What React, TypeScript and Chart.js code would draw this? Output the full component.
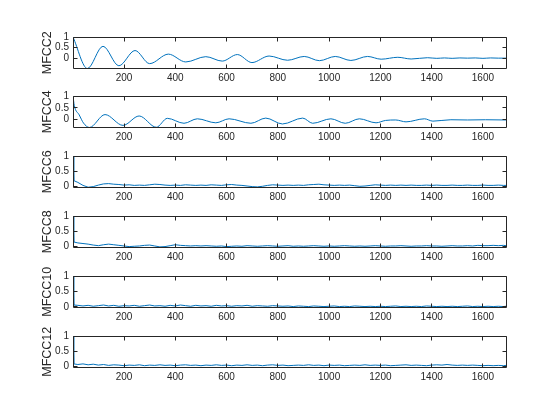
import React, { useEffect, useRef } from "react";
import { Chart, registerables } from "chart.js";
Chart.register(...registerables);

// ---------- data ----------
const X_MIN = 1;
const X_MAX = 1690;
const X_TICKS = [200, 400, 600, 800, 1000, 1200, 1400, 1600];
const Y_TICKS = [0, 0.5, 1];
const LABELS = ["MFCC2", "MFCC4", "MFCC6", "MFCC8", "MFCC10", "MFCC12"];
const Y_MINS = [-0.49, -0.34, -0.05, -0.03, -0.02, -0.05];
const Y_MAX = 1;

const mfcc2Lag = [1, 57, 118, 180, 243, 300, 373, 441, 519, 583, 642, 699, 766, 838, 903, 962, 1024, 1085, 1150, 1203, 1268, 1320, 1384, 1420, 1450, 1480, 1510, 1540, 1570, 1600, 1630, 1660, 1690];
const mfcc2Val = [1, -0.49, 0.56, -0.36, 0.36, -0.26, 0.19, -0.18, 0.07, -0.14, 0.17, -0.21, 0.1, -0.1, 0.08, -0.12, 0.08, -0.11, 0.08, -0.05, 0.04, -0.04, 0.02, -0.01, 0.01, -0.01, 0.01, 0.0, 0.01, -0.01, 0.01, 0.0, 0.0];

const mfcc4Lag = [1, 6, 25, 42, 65, 126, 196, 259, 326, 369, 434, 486, 558, 610, 695, 753, 818, 897, 936, 1007, 1063, 1118, 1183, 1220, 1260, 1300, 1372, 1405, 1475, 1540, 1610, 1690];
const mfcc4Val = [1, 0.6, 0.2, -0.15, -0.34, 0.21, -0.25, 0.15, -0.33, 0.05, -0.16, 0.03, -0.14, 0.03, -0.16, 0.06, -0.19, 0.06, -0.16, 0.03, -0.16, 0.03, -0.14, -0.04, -0.02, -0.1, 0.03, -0.07, -0.01, -0.02, -0.01, -0.02];

const noiseLag = [
  1, 4,
  20, 40, 60, 80, 100, 120, 140, 160, 180, 200,
  220, 240, 260, 280, 300, 320, 340, 360, 380, 400,
  420, 440, 460, 480, 500, 520, 540, 560, 580, 600,
  620, 640, 660, 680, 700, 720, 740, 760, 780, 800,
  820, 840, 860, 880, 900, 920, 940, 960, 980, 1000,
  1020, 1040, 1060, 1080, 1100, 1120, 1140, 1160, 1180, 1200,
  1220, 1240, 1260, 1280, 1300, 1320, 1340, 1360, 1380, 1400,
  1420, 1440, 1460, 1480, 1500, 1520, 1540, 1560, 1580, 1600,
  1620, 1640, 1660, 1680, 1690,
];

const mfcc6Val = [
  1, 0.18,
  0.12, 0.02, -0.04, -0.02, 0.03, 0.07, 0.08, 0.06, 0.05, 0.03,
  0.04, 0.02, 0.03, 0.02, 0.04, 0.06, 0.05, 0.03, 0.02, 0.03,
  0.02, 0.04, 0.03, 0.02, 0.03, 0.02, 0.04, 0.03, 0.02, 0.04,
  0.05, 0.03, 0.02, 0.0, -0.02, -0.03, -0.01, 0.02, 0.04, 0.03,
  0.02, 0.03, 0.02, 0.03, 0.02, 0.04, 0.05, 0.06, 0.04, 0.03,
  0.02, 0.03, 0.02, 0.03, 0.01, -0.01, 0.0, 0.02, 0.04, 0.03,
  0.02, 0.03, 0.02, 0.03, 0.02, 0.03, 0.02, 0.02, 0.03, 0.02,
  0.03, 0.02, 0.02, 0.03, 0.02, 0.02, 0.03, 0.02, 0.02, 0.03,
  0.02, 0.02, 0.03, 0.02, 0.02,
];

const mfcc8Val = [
  1, 0.15,
  0.12, 0.1, 0.08, 0.05, 0.03, 0.06, 0.08, 0.06, 0.04, 0.02,
  0.0, 0.01, 0.02, 0.04, 0.05, 0.02, -0.01, 0.0, 0.03, 0.06,
  0.04, 0.03, 0.02, 0.03, 0.02, 0.03, 0.02, 0.01, 0.02, 0.0,
  0.01, 0.02, 0.01, 0.03, 0.02, 0.01, 0.02, 0.03, 0.02, 0.01,
  0.02, 0.03, 0.01, 0.02, 0.01, 0.02, 0.03, 0.02, 0.01, 0.02,
  0.01, 0.02, 0.03, 0.02, 0.01, 0.02, 0.01, 0.02, 0.03, 0.02,
  0.01, 0.02, 0.02, 0.03, 0.02, 0.01, 0.02, 0.02, 0.03, 0.02,
  0.02, 0.01, 0.02, 0.03, 0.02, 0.02, 0.03, 0.02, 0.04, 0.03,
  0.03, 0.04, 0.03, 0.04, 0.03,
];

const mfcc10Val = [
  1, 0.06,
  0.05, 0.03, 0.05, 0.02, 0.04, 0.06, 0.03, 0.05, 0.02, 0.04,
  0.03, 0.05, 0.02, 0.04, 0.06, 0.03, 0.04, 0.02, 0.05, 0.03,
  0.06, 0.04, 0.02, 0.05, 0.03, 0.04, 0.02, 0.05, 0.03, 0.04,
  0.02, 0.04, 0.03, 0.05, 0.02, 0.04, 0.03, 0.02, 0.04, 0.03,
  0.02, 0.03, 0.01, 0.03, 0.02, 0.01, 0.03, 0.02, 0.01, 0.02,
  0.03, 0.01, 0.02, 0.01, 0.03, 0.02, 0.01, 0.02, 0.01, 0.02,
  0.01, 0.02, 0.03, 0.01, 0.02, 0.01, 0.02, 0.01, 0.03, 0.02,
  0.01, 0.02, 0.01, 0.02, 0.01, 0.02, 0.03, 0.01, 0.02, 0.01,
  0.02, 0.01, 0.02, 0.01, 0.02,
];

const mfcc12Val = [
  1, 0.07,
  0.05, 0.07, 0.04, 0.06, 0.03, 0.05, 0.02, 0.04, 0.03, 0.01,
  0.03, 0.02, 0.04, 0.01, 0.03, 0.02, 0.04, 0.02, 0.03, 0.01,
  0.03, 0.04, 0.02, 0.03, 0.01, 0.03, 0.02, 0.04, 0.02, 0.03,
  0.01, 0.03, 0.02, 0.04, 0.02, 0.03, 0.01, 0.03, 0.04, 0.02,
  0.03, 0.01, 0.02, 0.03, 0.02, 0.04, 0.02, 0.03, 0.01, 0.03,
  0.02, 0.03, 0.01, 0.02, 0.03, 0.02, 0.04, 0.02, 0.03, 0.02,
  0.03, 0.01, 0.02, 0.03, 0.04, 0.02, 0.03, 0.02, 0.01, 0.03,
  0.04, 0.03, 0.05, 0.03, 0.02, 0.03, 0.02, 0.03, 0.02, 0.01,
  0.02, 0.01, 0.02, 0.01, 0.02,
];

const SERIES_LAGS = [mfcc2Lag, mfcc4Lag, noiseLag, noiseLag, noiseLag, noiseLag];
const SERIES_VALS = [mfcc2Val, mfcc4Val, mfcc6Val, mfcc8Val, mfcc10Val, mfcc12Val];
const SMOOTH = [true, true, false, false, false, false];

// ---------- layout ----------
const PLOT_TOPS = [33, 92, 152, 212, 272, 332];
const PLOT_H = 35.5;
const PAD_TOP = 6;
const X_AXIS_H = 24;
const LEFT_PAD = 40;
const PLOT_LEFT = 73;
const PLOT_RIGHT = 506;
const FIG_W = 560;
const AXIS_COLOR = "#262626";
const LINE_COLOR = "#0072BD";
const FONT = "'Liberation Sans', Arial, Helvetica, sans-serif";
const TICK_SIZE = 10;
const LABEL_SIZE = 12.5;

const boxPlugin = {
  id: "matlabBox",
  afterDraw(chart: any) {
    const { ctx, chartArea, scales } = chart;
    const { left, right, top, bottom } = chartArea;
    const a = (v: number) => Math.floor(v) + 0.5;
    const L = a(left), R = a(right), T = a(top), B = a(bottom);
    ctx.save();
    ctx.strokeStyle = AXIS_COLOR;
    ctx.lineWidth = 1;
    ctx.beginPath();
    ctx.rect(L, T, R - L, B - T);
    const tl = 4;
    X_TICKS.forEach((v) => {
      const px = a(scales.x.getPixelForValue(v));
      ctx.moveTo(px, B);
      ctx.lineTo(px, B - tl);
      ctx.moveTo(px, T);
      ctx.lineTo(px, T + tl);
    });
    Y_TICKS.forEach((v) => {
      const py = a(scales.y.getPixelForValue(v));
      ctx.moveTo(L, py);
      ctx.lineTo(L + tl, py);
      ctx.moveTo(R, py);
      ctx.lineTo(R - tl, py);
    });
    ctx.stroke();
    ctx.restore();
  },
};

function SubPlot({ idx }: { idx: number }) {
  const ref = useRef<HTMLCanvasElement | null>(null);
  const canvasH = Math.ceil(PAD_TOP + PLOT_H + X_AXIS_H);
  useEffect(() => {
    if (!ref.current) return;
    const lags = SERIES_LAGS[idx];
    const vals = SERIES_VALS[idx];
    const data = lags.map((x, i) => ({ x, y: vals[i] }));
    const chart = new Chart(ref.current, {
      type: "line",
      data: {
        datasets: [
          {
            data,
            borderColor: LINE_COLOR,
            borderWidth: 1,
            pointRadius: 0,
            fill: false,
            tension: 0,
            cubicInterpolationMode: SMOOTH[idx] ? "monotone" : "default",
          } as any,
        ],
      },
      options: {
        responsive: false,
        animation: false,
        devicePixelRatio: 1,
        layout: {
          padding: {
            left: LEFT_PAD,
            right: FIG_W - PLOT_RIGHT,
            top: PAD_TOP,
            bottom: 0,
          },
        },
        plugins: { legend: { display: false }, tooltip: { enabled: false } },
        scales: {
          x: {
            type: "linear",
            min: X_MIN,
            max: X_MAX,
            grid: { display: false, drawTicks: false },
            border: { display: false },
            afterFit: (s: any) => {
              s.height = canvasH - PAD_TOP - PLOT_H;
            },
            afterBuildTicks: (s: any) => {
              s.ticks = X_TICKS.map((v) => ({ value: v }));
            },
            ticks: {
              autoSkip: false,
              maxRotation: 0,
              padding: 4,
              color: AXIS_COLOR,
              font: { family: FONT, size: TICK_SIZE },
              callback: (v: any) => String(v),
            },
          },
          y: {
            type: "linear",
            min: Y_MINS[idx],
            max: Y_MAX,
            grid: { display: false, drawTicks: false },
            border: { display: false },
            afterFit: (s: any) => {
              s.width = PLOT_LEFT - LEFT_PAD;
            },
            afterBuildTicks: (s: any) => {
              s.ticks = Y_TICKS.map((v) => ({ value: v }));
            },
            ticks: {
              padding: 4,
              color: AXIS_COLOR,
              font: { family: FONT, size: TICK_SIZE },
              callback: (v: any) => String(v),
            },
            title: {
              display: true,
              text: LABELS[idx],
              color: AXIS_COLOR,
              padding: 0,
              font: { family: FONT, size: LABEL_SIZE },
            },
          },
        },
      },
      plugins: [boxPlugin],
    });
    return () => chart.destroy();
  }, [idx]);
  return (
    <canvas
      ref={ref}
      width={FIG_W}
      height={canvasH}
      style={{
        position: "absolute",
        left: 0,
        top: PLOT_TOPS[idx] - PAD_TOP,
        width: FIG_W,
        height: canvasH,
      }}
    />
  );
}

export default function App() {
  return (
    <div
      style={{
        position: "absolute",
        left: 0,
        top: 0,
        width: FIG_W,
        height: 420,
        background: "#ffffff",
      }}
    >
      {LABELS.map((_, i) => (
        <SubPlot key={i} idx={i} />
      ))}
    </div>
  );
}
